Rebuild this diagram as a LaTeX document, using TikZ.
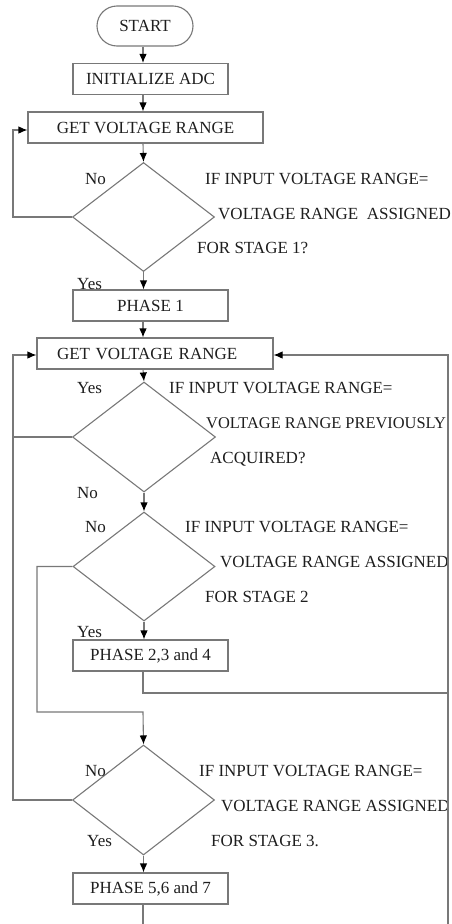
\documentclass[tikz,border=0pt]{standalone}
\usepackage{fontspec}
\setmainfont{Liberation Serif}
\usetikzlibrary{shapes.geometric,arrows.meta}
\definecolor{ln}{RGB}{120,120,120}
\definecolor{tx}{RGB}{30,30,30}
\tikzset{
  box/.style={draw=ln, line width=1.1pt, rectangle, minimum height=31pt, inner sep=0pt, font=\fontsize{17}{19}\selectfont, text=tx},
  term/.style={draw=ln, line width=1.1pt, rectangle, rounded corners=20pt, minimum width=96pt, minimum height=40pt, inner sep=0pt, font=\fontsize{17}{19}\selectfont, text=tx},
  dec/.style={draw=ln, line width=1.1pt, diamond, inner sep=0pt, minimum width=142pt, minimum height=109pt},
  lbl/.style={anchor=base west, inner sep=0pt, font=\fontsize{17}{19}\selectfont, text=tx},
  wire/.style={draw=ln, line width=1.1pt},
  arr/.style={wire, -{Latex[length=9pt,width=7.5pt,color=black]}}
}
\begin{document}
\begin{tikzpicture}[x=1pt,y=-1pt]
\useasboundingbox (0,0) rectangle (451,924);
\coordinate (ax) at (143,0);
\coordinate (lx) at (13,0);
\coordinate (mx) at (37,0);
\coordinate (rx) at (448,0);

\node[term] (start) at (145,26) {START};
\node[box, minimum width=155pt] (init) at (150.5,79) {INITIALIZE ADC};
\node[box, minimum width=235pt] (get1) at (145.5,127.5) {GET VOLTAGE RANGE};
\node[dec] (d1) at (143.5,217) {};
\node[box, minimum width=155pt] (ph1) at (150.5,305.5) {PHASE 1};
\node[box, text width=196pt, inner xsep=20pt, align=left] (get2) at (155,353.5) {GET VOLTAGE RANGE};
\node[dec, minimum height=110pt, minimum width=143pt] (d2) at (144,437) {};
\node[dec] (d3) at (144,566.5) {};
\node[box, minimum width=155pt] (ph2) at (150.5,655.5) {PHASE 2,3 and 4};
\node[dec, minimum height=110pt] (d4) at (143.5,800) {};
\node[box, minimum width=155pt] (ph5) at (150.5,888.5) {PHASE 5,6 and 7};

\coordinate (jm) at (143,712);
\coordinate (jr) at (448,693);
\coordinate (rb) at (448,924);
\coordinate (pb) at (143,924);

% labels
\node[lbl] (n1) at (85,184.5) {No};
\node[lbl] (t1a) at (205,184) {IF INPUT VOLTAGE RANGE=};
\node[lbl] (t1b) at (218,219) {VOLTAGE RANGE\ \ ASSIGNED};
\node[lbl] (t1c) at (197,253) {FOR STAGE 1?};
\node[lbl] (y1) at (77,289) {Yes};

\node[lbl] (y2) at (77,393) {Yes};
\node[lbl] (t2a) at (169,393) {IF INPUT VOLTAGE RANGE=};
\node[lbl, font=\fontsize{16.4}{19}\selectfont] (t2b) at (206,428) {VOLTAGE RANGE PREVIOUSLY};
\node[lbl] (t2c) at (210,463) {ACQUIRED?};
\node[lbl] (n2) at (77,498) {No};

\node[lbl] (n3) at (85,532) {No};
\node[lbl] (t3a) at (185,532) {IF INPUT VOLTAGE RANGE=};
\node[lbl] (t3b) at (220,567) {VOLTAGE RANGE ASSIGNED};
\node[lbl] (t3c) at (205,602) {FOR STAGE 2};
\node[lbl] (y3) at (77,637) {Yes};

\node[lbl] (n4) at (85,776) {No};
\node[lbl] (t4a) at (199,776) {IF INPUT VOLTAGE RANGE=};
\node[lbl] (t4b) at (221,811) {VOLTAGE RANGE ASSIGNED};
\node[lbl] (t4c) at (211,846) {FOR STAGE 3.};
\node[lbl] (y4) at (87,846) {Yes};

% connectors
\draw[arr] (start.south -| ax) -- (init.north -| ax);
\draw[arr] (init.south -| ax) -- (get1.north -| ax);
\draw[arr] (get1.south -| ax) -- (d1.north);
\draw[arr] (d1.west) -- (d1.west -| lx) |- ([yshift=-2.5pt]get1.west);
\draw[arr] (d1.south) -- (ph1.north -| d1.south);
\draw[arr] (ph1.south -| ax) -- (get2.north -| ax);
\draw[arr] (get2.south -| ax) -- (d2.north);
\draw[wire] (d2.west) -- (d2.west -| lx);
\draw[arr] (d4.west) -- (d4.west -| lx) |- ([yshift=-1.5pt]get2.west);
\draw[arr] (d2.south) -- (d3.north);
\draw[arr] (d3.west) -- (d3.west -| mx) |- (jm) -- (d4.north);
\draw[arr] (d3.south) -- (ph2.north -| d3.south);
\draw[wire] (ph2.south -| ax) |- (jr);
\draw[arr] (rb) |- ([yshift=-1.5pt]get2.east);
\draw[arr] (d4.south) -- (ph5.north -| d4.south);
\draw[wire] (ph5.south -| ax) -- (pb);
\end{tikzpicture}
\end{document}
